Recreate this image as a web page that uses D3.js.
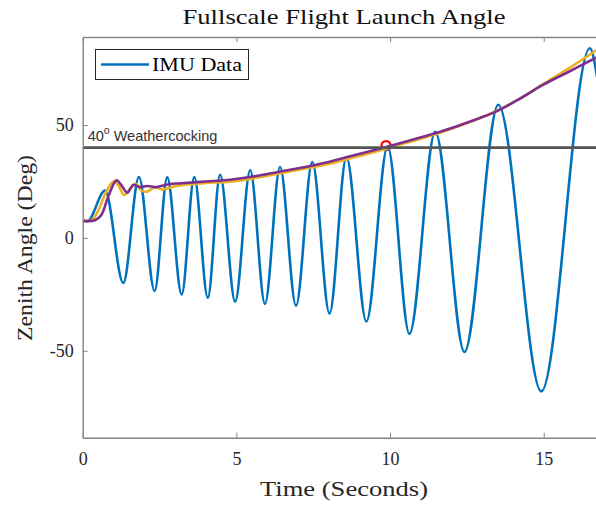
<!DOCTYPE html>
<html>
<head>
<meta charset="utf-8">
<script src="https://cdn.jsdelivr.net/npm/d3@7"></script>
<style>
  html, body { margin: 0; padding: 0; background: #fff; }
  svg { display: block; }
</style>
</head>
<body>
<svg id="chart" width="596" height="506"></svg>
<script>
// IMU zenith angle trace: turning points of the oscillation (time s, angle deg)
const imuTime = [0, 0.15, 0.73, 1.32, 1.83, 2.34, 2.75, 3.22, 3.63, 4.07, 4.47, 4.96, 5.45, 5.93, 6.42, 6.94, 7.47, 8.03, 8.58, 9.23, 9.92, 10.63, 11.47, 12.42, 13.52, 14.92, 16.5, 16.75];
const imuAngle = [7.7, 7.4, 21, -20, 27, -23.5, 26.8, -25, 27, -26.5, 28, -28.2, 30, -29.2, 31.4, -30, 33.6, -33.5, 35.8, -37, 40.5, -42.5, 47, -50.5, 59, -68, 84, 70];

// Smoothed estimates (yellow and purple traces)
const fitTime = [0, 0.3, 0.5, 0.75, 1.0, 1.15, 1.35, 1.55, 1.75, 1.9, 2.1, 2.35, 2.6, 2.9, 3.2, 4.0, 4.8, 5.6, 6.4, 7.2, 8.0, 8.8, 9.85, 10.8, 11.5, 12.2, 12.9, 13.5, 14.2, 15.0, 15.8, 16.75];
const fitYellow = [7.5, 8, 12, 20, 25, 23.5, 19, 22, 23.8, 21, 20.5, 22.5, 21.5, 22.5, 23.4, 24.3, 24.9, 26.5, 28.6, 30.6, 32.8, 35.6, 39.4, 43.2, 46, 49.3, 53, 56.5, 61.5, 68.3, 75, 83.5];
const purpleTime = [0, 0.4, 0.6, 0.85, 1.1, 1.3, 1.45, 1.65, 1.85, 2.1, 2.4, 2.8, 3.2, 4.0, 4.8, 5.6, 6.4, 7.2, 8.0, 8.8, 9.85, 10.8, 11.5, 12.2, 12.9, 13.5, 14.2, 15.0, 15.8, 16.75];
const fitPurple = [7.5, 7.8, 10, 19, 25.5, 22.5, 20, 23.5, 22.5, 23, 22.5, 23.8, 24.2, 25, 25.8, 27.3, 29.3, 31.3, 33.6, 36.5, 40.2, 43.8, 46.5, 49.6, 53, 56.3, 61.5, 68, 73.5, 80.2];

// 40 degree crossing marker
const crossTime = [9.87];
const crossAngle = [40.9];

const limitAngle = 40;
const xTicks = [0, 5, 10, 15];
const yTicks = [-50, 0, 50];

const svg = d3.select("#chart");
const L = 82.7, R = 596, T = 37, B = 437.7;

const x = d3.scaleLinear().domain([0, 16.7]).range([L, R]);
const y = d3.scaleLinear().domain([-88.5, 89]).range([B, T]);

const serif = "'Liberation Serif', 'Times New Roman', serif";
const axisColor = "#868686";
const textColor = "#262626";

svg.append("defs").append("clipPath").attr("id", "plotClip")
  .append("rect").attr("x", L).attr("y", T).attr("width", R - L + 10).attr("height", B - T);

const plot = svg.append("g").attr("clip-path", "url(#plotClip)");

const zip = (ts, vs) => ts.map((t, i) => [t, vs[i]]);
const line = d3.line().x(d => x(d[0])).y(d => y(d[1])).curve(d3.curveMonotoneX);

// red marker sits below the traces
plot.selectAll("circle.cross").data(zip(crossTime, crossAngle)).join("circle")
  .attr("class", "cross")
  .attr("cx", d => x(d[0])).attr("cy", d => y(d[1])).attr("r", 4.5)
  .attr("fill", "none").attr("stroke", "#ff0000").attr("stroke-width", 2.3);

plot.append("path").datum(zip(imuTime, imuAngle))
  .attr("d", line).attr("fill", "none")
  .attr("stroke", "#0072BD").attr("stroke-width", 2.6).attr("stroke-linejoin", "round");

plot.append("path").datum(zip(fitTime, fitYellow))
  .attr("d", d3.line().x(d => x(d[0])).y(d => y(d[1])).curve(d3.curveCatmullRom))
  .attr("fill", "none").attr("stroke", "#EDB120").attr("stroke-width", 2.6);

plot.append("path").datum(zip(purpleTime, fitPurple))
  .attr("d", d3.line().x(d => x(d[0])).y(d => y(d[1])).curve(d3.curveCatmullRom))
  .attr("fill", "none").attr("stroke", "#7E2F8E").attr("stroke-width", 2.6);

// weathercocking limit
plot.append("line")
  .attr("x1", L).attr("x2", R + 5)
  .attr("y1", y(limitAngle)).attr("y2", y(limitAngle))
  .attr("stroke", "#555555").attr("stroke-width", 2.8);

const limitLabel = svg.append("text")
  .attr("x", L + 5).attr("y", y(limitAngle) - 7)
  .attr("font-family", "'Liberation Sans', Arial, sans-serif")
  .attr("font-size", 14.5).attr("fill", "#333");
limitLabel.append("tspan").text("40");
limitLabel.append("tspan").attr("dy", -7).attr("font-size", 10.5).text("o");
limitLabel.append("tspan").attr("dy", 7).text(" Weathercocking");

// axes
const plain = d => String(d);
const xAxis = d3.axisBottom(x).tickValues(xTicks).tickSizeInner(-5).tickSizeOuter(0).tickPadding(15).tickFormat(plain);
const xTop = d3.axisTop(x).tickValues(xTicks).tickSizeInner(-5).tickSizeOuter(0).tickFormat("");
const yAxis = d3.axisLeft(y).tickValues(yTicks).tickSizeInner(-5).tickSizeOuter(0).tickPadding(9).tickFormat(plain);

function styleAxis(g) {
  g.select(".domain").attr("stroke", axisColor).attr("stroke-width", 1.4);
  g.selectAll(".tick line").attr("stroke", axisColor).attr("stroke-width", 1);
  g.selectAll(".tick text").attr("fill", textColor).attr("font-family", serif).attr("font-size", 18);
}

svg.append("g").attr("transform", `translate(0,${B})`).call(xAxis).call(styleAxis);
svg.append("g").attr("transform", `translate(0,${T})`).call(xTop).call(styleAxis);
svg.append("g").attr("transform", `translate(${L},0)`).call(yAxis).call(styleAxis);

// title and axis labels
svg.append("text").attr("x", 344).attr("y", 24).attr("text-anchor", "middle")
  .attr("font-family", serif).attr("font-size", 22).attr("fill", "#111")
  .attr("textLength", 323).attr("lengthAdjust", "spacingAndGlyphs")
  .text("Fullscale Flight Launch Angle");

svg.append("text").attr("x", 344).attr("y", 496).attr("text-anchor", "middle")
  .attr("font-family", serif).attr("font-size", 21).attr("fill", textColor)
  .attr("textLength", 168).attr("lengthAdjust", "spacingAndGlyphs")
  .text("Time (Seconds)");

svg.append("text").attr("transform", "translate(32,248) rotate(-90)").attr("text-anchor", "middle")
  .attr("font-family", serif).attr("font-size", 21).attr("fill", textColor)
  .attr("textLength", 186).attr("lengthAdjust", "spacingAndGlyphs")
  .text("Zenith Angle (Deg)");

// legend
const lg = svg.append("g");
lg.append("rect").attr("x", 95.5).attr("y", 49.5).attr("width", 153).attr("height", 30)
  .attr("fill", "#fff").attr("stroke", "#262626").attr("stroke-width", 1);
lg.append("line").attr("x1", 101).attr("x2", 149).attr("y1", 64.5).attr("y2", 64.5)
  .attr("stroke", "#0072BD").attr("stroke-width", 2.6);
lg.append("text").attr("x", 152).attr("y", 70.5)
  .attr("font-family", serif).attr("font-size", 18).attr("fill", "#000")
  .attr("textLength", 90).attr("lengthAdjust", "spacingAndGlyphs")
  .text("IMU Data");
</script>
</body>
</html>
